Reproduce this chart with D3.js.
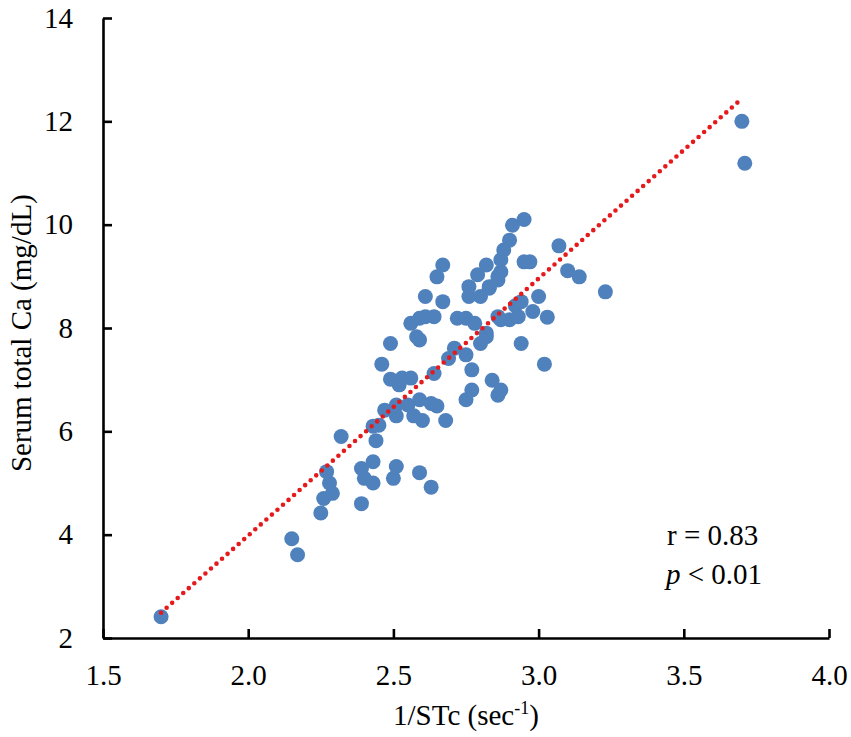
<!DOCTYPE html>
<html>
<head>
<meta charset="utf-8" />
<title>Serum total Ca vs 1/STc</title>
<style>
html, body {
    margin: 0px;
    padding: 0px;
    background: #fff;
}
svg text {
    font-family: "Liberation Serif", Tinos, "Times New Roman", Times, "DejaVu Serif", serif !important;
    fill: #000;
}
</style>
</head>
<body>
<svg id="chart" width="851" height="737"></svg>

<script src="https://cdnjs.cloudflare.com/ajax/libs/d3/7.8.5/d3.min.js"></script>
<script>
!(function(){
    "use strict"

    var SERIF = '"Liberation Serif", Tinos, "Times New Roman", Times, "DejaVu Serif", serif';

    // 1/STc (sec-1)
    var stc = [
        1.70, 2.15, 2.17, 2.25, 2.26, 2.29, 2.28, 2.27, 2.32, 2.39,
        2.39, 2.40, 2.43, 2.43, 2.44, 2.43, 2.45, 2.47, 2.46, 2.49,
        2.50, 2.51, 2.49, 2.52, 2.53, 2.56, 2.51, 2.51, 2.55, 2.57,
        2.60, 2.59, 2.63, 2.65, 2.68, 2.59, 2.63, 2.64, 2.58, 2.59,
        2.56, 2.59, 2.61, 2.64, 2.61, 2.67, 2.65, 2.67, 2.69, 2.71,
        2.75, 2.77, 2.77, 2.75, 2.72, 2.75, 2.78, 2.82, 2.80, 2.82,
        2.84, 2.87, 2.86, 2.76, 2.76, 2.80, 2.83, 2.79, 2.82, 2.86,
        2.87, 2.87, 2.88, 2.90, 2.91, 2.95, 2.95, 2.97, 3.07, 3.10,
        3.14, 3.00, 2.94, 2.92, 2.98, 3.03, 2.87, 2.90, 2.93, 2.86,
        2.94, 3.02, 3.23, 3.70, 3.71, 2.83, 2.86
    ];
    // Serum total Ca (mg/dL)
    var ca = [
        2.41, 3.92, 3.61, 4.42, 4.70, 4.80, 5.00, 5.22, 5.90, 4.60,
        5.28, 5.09, 5.00, 5.41, 5.82, 6.10, 6.12, 6.41, 7.30, 7.70,
        5.09, 5.32, 7.01, 6.90, 7.03, 7.03, 6.51, 6.30, 6.51, 6.30,
        6.21, 6.61, 6.54, 6.49, 6.21, 5.20, 4.92, 7.12, 7.83, 7.77,
        8.09, 8.19, 8.22, 8.22, 8.61, 8.51, 8.99, 9.22, 7.41, 7.61,
        7.48, 7.19, 6.80, 6.61, 8.19, 8.19, 8.09, 7.83, 7.70, 7.90,
        6.99, 6.80, 6.70, 8.80, 8.61, 8.61, 8.80, 9.03, 9.22, 8.93,
        9.09, 9.32, 9.51, 9.70, 9.99, 10.10, 9.28, 9.28, 9.59, 9.11,
        8.99, 8.61, 8.51, 8.43, 8.32, 8.21, 8.16, 8.16, 8.22, 8.22,
        7.70, 7.30, 8.70, 12.00, 11.19, 8.77, 9.00
    ];

    // linear fit ends
    var trendX = [1.70, 3.69];
    var trendY = [2.49, 12.39];

    var xTicks = [1.5, 2.0, 2.5, 3.0, 3.5, 4.0];
    var yTicks = [2, 4, 6, 8, 10, 12, 14];

    var statLines = ["r = 0.83", "p < 0.01"];

    var svg = d3.select("#chart");

    var x = d3.scaleLinear().domain([1.5, 4.0]).range([103, 829]);
    var y = d3.scaleLinear().domain([2, 14]).range([638, 18]);

    // axes, ticks pointing inward
    var xAxis = d3.axisBottom(x)
        .tickValues(xTicks)
        .tickSizeInner(-9)
        .tickSizeOuter(0)
        .tickPadding(26)
        .tickFormat(d3.format(".1f"));

    var yAxis = d3.axisLeft(y)
        .tickValues(yTicks)
        .tickSizeInner(-9)
        .tickSizeOuter(0)
        .tickPadding(30)
        .tickFormat(d3.format("d"));

    var gx = svg.append("g")
        .attr("transform", "translate(0," + y(2) + ")")
        .call(xAxis);

    var gy = svg.append("g")
        .attr("transform", "translate(" + x(1.5) + ",0)")
        .call(yAxis);

    [gx, gy].forEach(function(g){
        g.attr("font-family", null).attr("font-size", null);
        g.select(".domain").attr("stroke", "#000").attr("stroke-width", 2.6);
        g.selectAll(".tick line").attr("stroke", "#000").attr("stroke-width", 2.6);
        g.selectAll(".tick text")
            .style("font-family", SERIF)
            .style("font-size", "29px")
            .attr("fill", "#000");
    });
    gy.selectAll(".tick text").attr("dy", "0.32em");

    // points
    var pts = stc.map(function(d, i){ return [d, ca[i]]; });

    svg.append("g")
        .selectAll("circle")
        .data(pts)
        .enter()
        .append("circle")
        .attr("cx", function(d){ return x(d[0]); })
        .attr("cy", function(d){ return y(d[1]); })
        .attr("r", 7.5)
        .attr("fill", "#4f81bd");

    // dotted trend line
    svg.append("line")
        .attr("x1", x(trendX[0]))
        .attr("y1", y(trendY[0]))
        .attr("x2", x(trendX[1]))
        .attr("y2", y(trendY[1]))
        .attr("stroke", "#e41a1c")
        .attr("stroke-width", 4.6)
        .attr("stroke-linecap", "round")
        .attr("stroke-dasharray", "0 7.4");

    // axis titles
    var xl = svg.append("text")
        .attr("x", x(2.75))
        .attr("y", 725)
        .attr("text-anchor", "middle")
        .style("font-family", SERIF)
        .style("font-size", "29px");
    xl.append("tspan").text("1/STc (sec");
    xl.append("tspan").style("font-size", "18px").attr("dy", -11).text("-1");
    xl.append("tspan").attr("dy", 11).text(")");

    svg.append("text")
        .attr("transform", "translate(31," + y(7.9) + ") rotate(-90)")
        .attr("text-anchor", "middle")
        .style("font-family", SERIF)
        .style("font-size", "29px")
        .text("Serum total Ca (mg/dL)");

    // stats
    svg.append("text")
        .attr("x", 667)
        .attr("y", 545)
        .style("font-family", SERIF)
        .style("font-size", "29px")
        .text(statLines[0]);

    var pl = svg.append("text")
        .attr("x", 666)
        .attr("y", 584)
        .style("font-family", SERIF)
        .style("font-size", "29px");
    pl.append("tspan").style("font-style", "italic").text(statLines[1].slice(0, 1));
    pl.append("tspan").text(statLines[1].slice(1));

}());
</script>
</body>
</html>
